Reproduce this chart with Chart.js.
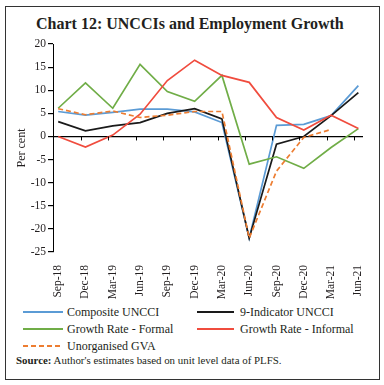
<!DOCTYPE html>
<html>
<head>
<meta charset="utf-8">
<script src="https://cdn.jsdelivr.net/npm/chart.js@4.4.1/dist/chart.umd.min.js"></script>
<style>
  html, body { margin:0; padding:0; background:#fff; }
  body { width:384px; height:385px; position:relative; overflow:hidden; font-family:"Liberation Serif", serif; color:#231f20; }
  #frame { position:absolute; left:5px; top:6px; width:375px; height:374px; border:1.5px solid #333; box-sizing:border-box; }
  #title { position:absolute; left:36px; top:16px; font-size:16px; line-height:16px; font-weight:bold; white-space:nowrap; }
  #chart { position:absolute; left:0; top:0; }
  .lg-line { position:absolute; height:4px; }
  .lg-text { position:absolute; font-size:12px; line-height:16px; white-space:nowrap; }
  #source { position:absolute; left:16px; top:354px; font-size:10.9px; line-height:12px; white-space:nowrap; }
</style>
</head>
<body>
<div id="frame"></div>
<div id="title">Chart 12: UNCCIs and Employment Growth</div>
<canvas id="chart" width="384" height="300"></canvas>
<div id="legend"></div>
<div id="source"><b>Source:</b> Author's estimates based on unit level data of PLFS.</div>
<script>
// ---- data ----
const categories = ['Sep-18','Dec-18','Mar-19','Jun-19','Sep-19','Dec-19','Mar-20','Jun-20','Sep-20','Dec-20','Mar-21','Jun-21'];
const compositeUNCCI     = [5.4, 4.6, 5.2, 5.9, 5.9, 5.3, 3.0, -22.0, 2.4, 2.6, 4.5, 11.0];
const nineIndicatorUNCCI = [3.2, 1.2, 2.3, 3.0, 5.0, 6.0, 3.8, -22.0, -1.7, 0.0, 4.5, 9.5];
const growthFormal       = [6.1, 11.6, 6.1, 15.6, 9.7, 7.6, 13.2, -6.0, -4.4, -6.9, -2.4, 1.7];
const growthInformal     = [0.0, -2.3, 0.3, 4.8, 12.1, 16.5, 13.2, 11.7, 4.1, 1.4, 4.6, 1.7];
const unorganisedGVA     = [6.0, 4.7, 5.5, 4.1, 4.6, 5.4, 5.4, -22.0, -7.5, -0.2, 1.5, null];
const seriesNames = ['Composite UNCCI','9-Indicator UNCCI','Growth Rate - Formal','Growth Rate - Informal','Unorganised GVA'];
const yMin = -25, yMax = 20, yStep = 5;

// ---- styles ----
const seriesValues = [compositeUNCCI, nineIndicatorUNCCI, growthFormal, growthInformal, unorganisedGVA];
const colors = ['#5B9BD5', '#1a1a1a', '#70AD47', '#F04C3E', '#ED7D31'];
const dashes = [[], [], [], [], [5, 3]];
const FONT = '"Liberation Serif", serif';

const datasets = seriesValues.map((vals, i) => ({
  label: seriesNames[i],
  data: vals.map((v, k) => ({ x: k, y: v })),
  borderColor: colors[i],
  backgroundColor: colors[i],
  borderWidth: 1.7,
  borderDash: dashes[i],
  pointRadius: 0,
  tension: 0,
  fill: false,
  order: seriesValues.length - i
}));

const tickShift = 0.16;
const xTickMarks = {
  id: 'xTickMarks',
  afterDraw(chart) {
    const xs = chart.scales.x, ys = chart.scales.y, ctx = chart.ctx;
    const y0 = ys.getPixelForValue(0);
    ctx.save();
    ctx.strokeStyle = '#000';
    ctx.lineWidth = 1;
    ctx.beginPath();
    categories.forEach((c, i) => {
      if (i === 0) return;
      const x = Math.round(xs.getPixelForValue(i - tickShift)) + 0.5;
      ctx.moveTo(x, y0);
      ctx.lineTo(x, y0 + 4);
    });
    ctx.stroke();
    ctx.restore();
  }
};

new Chart(document.getElementById('chart'), {
  type: 'line',
  data: { datasets },
  plugins: [xTickMarks],
  options: {
    responsive: false,
    animation: false,
    events: [],
    layout: { padding: { left: 11, right: 21, top: 44, bottom: 0 } },
    plugins: { legend: { display: false }, tooltip: { enabled: false }, title: { display: false } },
    scales: {
      x: {
        type: 'linear',
        min: -0.19,
        max: 11.17,
        grid: { display: false },
        border: { display: false },
        afterBuildTicks(scale) { scale.ticks = categories.map((c, i) => ({ value: i })); },
        afterFit(scale) { scale.height = 48; },
        ticks: {
          autoSkip: false,
          minRotation: 90,
          maxRotation: 90,
          padding: 5,
          color: '#231f20',
          font: { family: FONT, size: 11.5 },
          callback: (v) => categories[v] ?? ''
        }
      },
      y: {
        min: yMin,
        max: yMax,
        afterFit(scale) { scale.width = 42; },
        border: { display: true, color: '#000', width: 1 },
        grid: {
          color: (ctx) => (ctx.tick && ctx.tick.value === 0) ? '#000' : 'rgba(0,0,0,0)',
          lineWidth: 1.2,
          tickColor: '#000',
          tickLength: 5,
          drawTicks: true
        },
        ticks: {
          stepSize: yStep,
          padding: 2,
          color: '#231f20',
          font: { family: FONT, size: 11.5 }
        },
        title: {
          display: true,
          text: 'Per cent',
          color: '#231f20',
          font: { family: FONT, size: 12 },
          padding: { top: 4, bottom: 4 }
        }
      }
    }
  }
});

// ---- HTML legend built from the datasets ----
const legend = document.getElementById('legend');
const colLine = [{ left: 23, w: 40 }, { left: 197, w: 37 }];
const colText = [67, 240];
const rowY = [312.3, 329, 345.7];
datasets.forEach((ds, i) => {
  const col = i % 2, row = Math.floor(i / 2);
  const svgNS = 'http://www.w3.org/2000/svg';
  const svg = document.createElementNS(svgNS, 'svg');
  svg.setAttribute('width', colLine[col].w);
  svg.setAttribute('height', 4);
  svg.setAttribute('class', 'lg-line');
  svg.style.left = colLine[col].left + 'px';
  svg.style.top = (rowY[row] - 2) + 'px';
  const ln = document.createElementNS(svgNS, 'line');
  ln.setAttribute('x1', 0); ln.setAttribute('x2', colLine[col].w);
  ln.setAttribute('y1', 2); ln.setAttribute('y2', 2);
  ln.setAttribute('stroke', ds.borderColor);
  ln.setAttribute('stroke-width', 2);
  if (ds.borderDash.length) ln.setAttribute('stroke-dasharray', ds.borderDash.join(','));
  svg.appendChild(ln);
  legend.appendChild(svg);
  const t = document.createElement('div');
  t.className = 'lg-text';
  t.textContent = ds.label;
  t.style.left = colText[col] + 'px';
  t.style.top = (rowY[row] - 8) + 'px';
  legend.appendChild(t);
});
</script>
</body>
</html>
